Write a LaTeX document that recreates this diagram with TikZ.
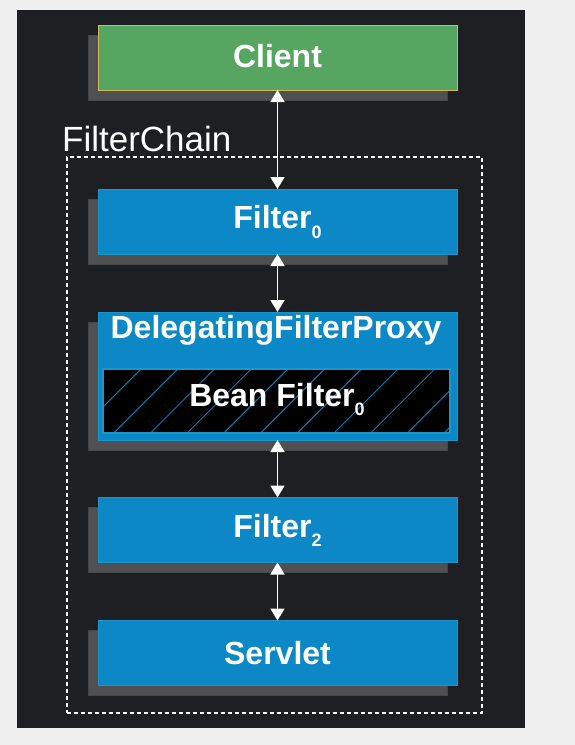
\documentclass[tikz,border=0pt]{standalone}
\usepackage{fontspec}
\setmainfont{Liberation Sans}
\usetikzlibrary{shadows,arrows.meta}
\definecolor{pagebg}{HTML}{F0F0F0}
\definecolor{panelc}{HTML}{1E1F23}
\definecolor{greenc}{HTML}{56A661}
\definecolor{greenb}{HTML}{CDBB5A}
\definecolor{bluec}{HTML}{0B88C5}
\definecolor{blueb}{HTML}{1A96CE}
\definecolor{hatchc}{HTML}{0B78AE}
\definecolor{shadowc}{HTML}{505052}
\definecolor{shadowb}{HTML}{45464A}
\tikzset{
  boxbase/.style={inner sep=0pt, outer sep=0pt, minimum width=359pt, text=white,
    line width=1pt,
    font=\bfseries\fontsize{32}{32}\selectfont, text height=23pt,
    general shadow={fill=shadowc, draw=shadowb, line width=1pt, shadow xshift=-10pt, shadow yshift=-10pt}},
  bluebox/.style={boxbase, fill=bluec, draw=blueb, minimum height=65pt},
  greenbox/.style={boxbase, fill=greenc, draw=greenb, minimum height=65pt},
  beanbox/.style={inner sep=0pt, outer sep=0pt, draw=blueb, line width=1.5pt, minimum width=347pt, minimum height=64pt},
  hatchline/.style={draw=hatchc, line width=1pt},
  biarrow/.style={draw=white, line width=1.8pt, {Triangle[width=14pt,length=12pt]}-{Triangle[width=14pt,length=12pt]}},
  chainbox/.style={draw=white, line width=1.3pt, dash pattern=on 4pt off 3pt, inner sep=0pt, minimum width=415pt, minimum height=556pt},
}
\newcommand{\subz}[1]{\raisebox{-9.5pt}{\fontsize{18}{18}\selectfont #1}}
\begin{document}
\begin{tikzpicture}[x=1pt,y=-1pt]
\fill[pagebg] (0,0) rectangle (575,745);
\useasboundingbox (0,0) rectangle (575,745);
\fill[panelc] (16.5,10) rectangle (525,728);

\node[chainbox] (chain) at (274.5,435) {};
\node[anchor=base west, inner sep=0pt, text=white, font=\fontsize{35}{35}\selectfont] (chainlbl) at (62,151) {FilterChain};

\node[greenbox, text depth=4pt] (client) at (277.5,57.5) {Client};
\node[bluebox, text depth=9pt] (f0) at (277.5,221.5) {Filter\subz{0}};
\node[boxbase, fill=bluec, draw=blueb, minimum height=128pt] (dfp) at (277.5,376) {};
\node[anchor=base, inner sep=0pt, text=white, font=\bfseries\fontsize{32}{32}\selectfont] (dfptitle) at (276,338.3) {DelegatingFilterProxy};
\node[beanbox] (bean) at (276.5,401) {};
\begin{scope}
  \clip (bean.south west) rectangle (bean.north east);
  \fill[black] (bean.south west) rectangle (bean.north east);
  \foreach \k in {-3,...,10} {
    \draw[hatchline] ({113.3+36.7*\k},433.5) -- ++(80,-80);
  }
\end{scope}
\draw[blueb, line width=1.5pt] (bean.south west) rectangle (bean.north east);
\node[inner sep=0pt, text=white, font=\bfseries\fontsize{32}{32}\selectfont, text height=23pt, text depth=13pt] (beantxt) at (277,401) {Bean Filter\subz{0}};

\node[bluebox, text depth=9pt] (f2) at (277.5,530) {Filter\subz{2}};
\node[bluebox, text depth=1pt] (servlet) at (277.5,653) {Servlet};

\draw[biarrow] (client.south) -- (f0.north);
\draw[biarrow] (f0.south) -- (dfp.north);
\draw[biarrow] (dfp.south) -- (f2.north);
\draw[biarrow] (f2.south) -- (servlet.north);
\end{tikzpicture}
\end{document}
